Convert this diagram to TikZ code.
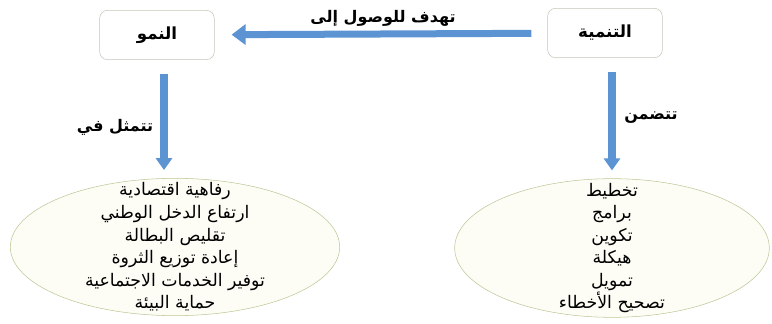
\documentclass[tikz,border=0pt]{standalone}
\usepackage{fontspec}
\newfontfamily\arabicfont[Script=Arabic]{DejaVu Sans}
\TeXXeTstate=1
\usetikzlibrary{positioning,shapes.geometric,arrows.meta}

\definecolor{arrowblue}{HTML}{5B93D3}
\definecolor{boxedge}{HTML}{C2C9B6}
\definecolor{ovaledge}{HTML}{BCC897}
\definecolor{ovalfill}{HTML}{FDFDF6}
\newcommand{\rtl}[1]{\beginR#1\endR}

\begin{document}
\begin{tikzpicture}[x=0.75pt, y=-0.75pt,
        concept/.style={rectangle, draw=boxedge, fill=white, rounded corners=6pt, minimum width=86pt, minimum height=37pt, font=\arabicfont\bfseries\fontsize{12.5}{14}\selectfont},
        oval/.style={ellipse, draw=ovaledge, fill=ovalfill, inner sep=-16pt, align=center, font=\arabicfont\fontsize{13}{16.9}\selectfont},
        tag/.style={font=\arabicfont\bfseries\fontsize{12}{14}\selectfont},
        flow/.style={-{Triangle[width=15pt, length=10.5pt]}, line width=5.25pt, arrowblue},
        down/.style={-{Triangle[width=12pt, length=9pt]}, line width=6pt, arrowblue}
    ]
    \useasboundingbox (0,0) rectangle (772,324);

    % Concepts
    \node[concept] (development) at (605,33) {\rtl{التنمية}};
    \node[concept] (growth) at (157,35) {\rtl{النمو}};

    % Ovals
    \node[oval, minimum width=247pt, minimum height=103pt] (outcomes) at (175,247)
        {\rtl{رفاهية اقتصادية}\\ \rtl{ارتفاع الدخل الوطني}\\ \rtl{تقليص البطالة}\\ \rtl{إعادة توزيع الثروة}\\ \rtl{توفير الخدمات الاجتماعية}\\ \rtl{حماية البيئة}};
    \node[oval, minimum width=236pt, minimum height=104pt] (means) at (612,248)
        {\rtl{تخطيط}\\ \rtl{برامج}\\ \rtl{تكوين}\\ \rtl{هيكلة}\\ \rtl{تمويل}\\ \rtl{تصحيح الأخطاء}};

    % Labels
    \node[tag] (reach) at (383,18) {\rtl{تهدف للوصول إلى}};
    \node[tag] (consists) at (115,127) {\rtl{تتمثل في}};
    \node[tag] (includes) at (651,118) {\rtl{تتضمن}};

    % Arrows
    \draw[flow, shorten <=12pt, shorten >=12.75pt] (development) -- (growth);
    \draw[down, shorten <=10.5pt, shorten >=6pt] ([xshift=5.25pt]growth.south) -- ([xshift=5.25pt]growth.south |- outcomes.north);
    \draw[down, shorten <=10.5pt, shorten >=6pt] ([xshift=5.25pt]development.south) -- ([xshift=5.25pt]development.south |- means.north);

\end{tikzpicture}
\end{document}
